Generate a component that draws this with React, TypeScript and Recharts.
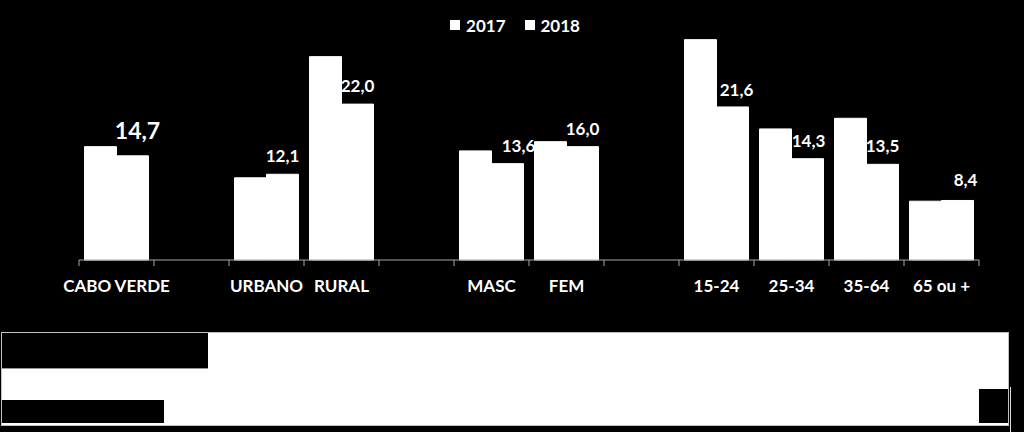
import React from 'react';
import { BarChart, Bar, XAxis, YAxis, Legend, LabelList } from 'recharts';

const categories = ['CABO VERDE', '', 'URBANO', 'RURAL', '', 'MASC', 'FEM', '', '15-24', '25-34', '35-64', '65 ou +'];
const values2017 = [16.0, null, 11.6, 28.7, null, 15.4, 16.7, null, 31.1, 18.5, 20.0, 8.3];
const values2018 = [14.7, null, 12.1, 22.0, null, 13.6, 16.0, null, 21.6, 14.3, 13.5, 8.4];
const seriesNames = ['2017', '2018'];

// manual label nudges (like the hand-placed labels in the original)
const labelDx = [5, 0, 0, 11, 0, 4, 1, 0, 8, 2, 12, 0];
const labelGap = [17, 12, 12, 12, 12, 11, 12, 12, 14, 12, 9, 12];

const data = categories.map((c, i) => ({ name: c, y2017: values2017[i], y2018: values2018[i] }));

const W = 1024;
const H = 432;
const ML = 79;
const MR = 45;
const BAND = (W - ML - MR) / categories.length;
const FONT = 'Lato, "Open Sans", sans-serif';
const GRAY = '#a6a6a6';

const CategoryTick = (props: any) => {
  const { x, y, payload, index } = props;
  const half = BAND / 2;
  return (
    <g>
      <line x1={x - half} x2={x - half} y1={y} y2={y + 6} stroke={GRAY} strokeWidth={1} />
      {index === categories.length - 1 && (
        <line x1={x + half} x2={x + half} y1={y} y2={y + 6} stroke={GRAY} strokeWidth={1} />
      )}
      <text x={x} y={y + 32} textAnchor="middle" fill="#ffffff" fontFamily={FONT} fontWeight={700} fontSize={17}>
        {payload.value}
      </text>
    </g>
  );
};

const ValueLabel = (props: any) => {
  const { x, y, width, value, index } = props;
  if (value === null || value === undefined) return null;
  const big = index === 0;
  return (
    <text
      x={x + width / 2 + labelDx[index]}
      y={y - labelGap[index]}
      textAnchor="middle"
      fill="#ffffff"
      fontFamily={FONT}
      fontWeight={700}
      fontSize={big ? 23 : 17}
    >
      {Number(value).toFixed(1).replace('.', ',')}
    </text>
  );
};

const LegendContent = () => (
  <div style={{ display: 'flex', justifyContent: 'center', alignItems: 'center', fontFamily: FONT, fontWeight: 700, fontSize: 17, color: '#fff', paddingLeft: 6, height: 0, overflow: 'visible' }}>
    {seriesNames.map((s, i) => (
      <div key={s} style={{ display: 'flex', alignItems: 'center', marginLeft: i === 0 ? 0 : 19 }}>
        <span style={{ display: 'inline-block', width: 10, height: 10, background: '#fff', marginRight: 6 }} />
        <span>{s}</span>
      </div>
    ))}
  </div>
);

export default function App() {
  return (
    <div style={{ position: 'absolute', left: 0, top: 0, width: W, height: H, background: '#000', overflow: 'hidden' }}>
      <BarChart
        width={W}
        height={H}
        data={data}
        margin={{ top: 12, right: MR, bottom: 142, left: ML }}
        barCategoryGap={5.5}
        barGap={0}
      >
        <XAxis
          dataKey="name"
          interval={0}
          tickLine={false}
          tickSize={0}
          tickMargin={0}
          axisLine={{ stroke: GRAY, strokeWidth: 1 }}
          tick={<CategoryTick />}
          height={30}
        />
        <YAxis hide domain={[0, 35]} />
        <Legend verticalAlign="top" content={<LegendContent />} wrapperStyle={{ top: 25, left: 0, width: W, height: 0 }} />
        <Bar dataKey="y2017" name="2017" fill="#ffffff" stroke="#ffffff" strokeWidth={1} isAnimationActive={false} />
        <Bar dataKey="y2018" name="2018" fill="#ffffff" stroke="#ffffff" strokeWidth={1} isAnimationActive={false}>
          <LabelList dataKey="y2018" content={<ValueLabel />} />
        </Bar>
      </BarChart>
      {/* decorative table fragment at the bottom */}
      <div style={{ position: 'absolute', left: 1, top: 332, width: 1008, height: 94, background: '#fff', border: '1px solid #bfbfbf', boxSizing: 'border-box' }} />
      <div style={{ position: 'absolute', left: 2, top: 333, width: 206, height: 35, background: '#000', borderBottom: '1px solid #999' }} />
      <div style={{ position: 'absolute', left: 2, top: 400, width: 162, height: 23, background: '#000' }} />
      <div style={{ position: 'absolute', left: 979, top: 389, width: 29, height: 34, background: '#000' }} />
      <div style={{ position: 'absolute', left: 1010, top: 387, width: 1, height: 45, background: '#ddd' }} />
    </div>
  );
}
